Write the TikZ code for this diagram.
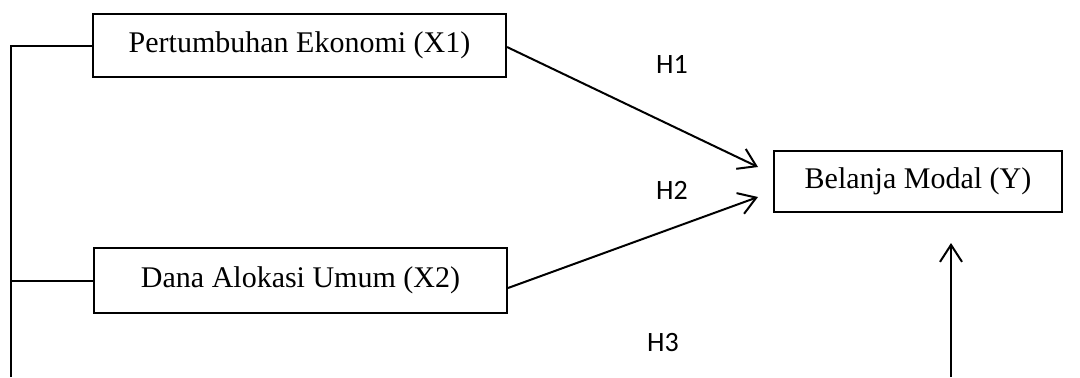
\documentclass[tikz,border=0pt]{standalone}
\usepackage{fontspec}
\setmainfont{Liberation Serif}
\newfontfamily\calib{Carlito}
\usetikzlibrary{arrows.meta}
\tikzset{
  varbox/.style={draw, line width=1pt, rectangle, inner sep=0pt,
    font=\fontsize{15}{18}\selectfont},
  link/.style={line width=1pt},
  arr/.style={link, -{Straight Barb[length=8.5pt,width=11pt,line width=1pt]}},
  hyp/.style={font=\calib\fontsize{14}{16}\selectfont, inner sep=0pt}
}
\begin{document}
\begin{tikzpicture}[x=0.5pt, y=-0.5pt]
  \useasboundingbox (0,0) rectangle (1080,377);

  % variables
  \node[varbox, minimum width=206.5pt, minimum height=31.5pt] (X1) at (299.5,45.5) {Pertumbuhan Ekonomi (X1)};
  \node[varbox, minimum width=206.5pt, minimum height=32.5pt] (X2) at (300.5,280.5) {Dana Alokasi Umum (X2)};
  \node[varbox, minimum width=144pt, minimum height=30.5pt] (Y) at (918,181.5) {Belanja Modal (Y)};

  % hypothesis labels
  \node[hyp] (h1) at (672,64) {H1};
  \node[hyp] (h2) at (672,190) {H2};
  \node[hyp] (h3) at (663,342) {H3};

  % free ends of the connectors
  \coordinate (t1) at (758,167);
  \coordinate (t2) at (758,197);
  \coordinate (L0) at (11,377);
  \coordinate (L1) at (11,45.5);
  \coordinate (L2) at (11,280.5);
  \coordinate (b0) at (951,377);
  \coordinate (b1) at (951,243);

  % bracket on the left
  \draw[link] (L0) -- (L1) -- (X1.west);
  \draw[link] (L2) -- (X2.west);

  % hypothesis arrows
  \draw[arr] ([yshift=-0.75pt]X1.east) -- (t1);
  \draw[arr] ([yshift=-3.75pt]X2.east) -- (t2);
  \draw[arr] (b0) -- (b1);
\end{tikzpicture}
\end{document}
